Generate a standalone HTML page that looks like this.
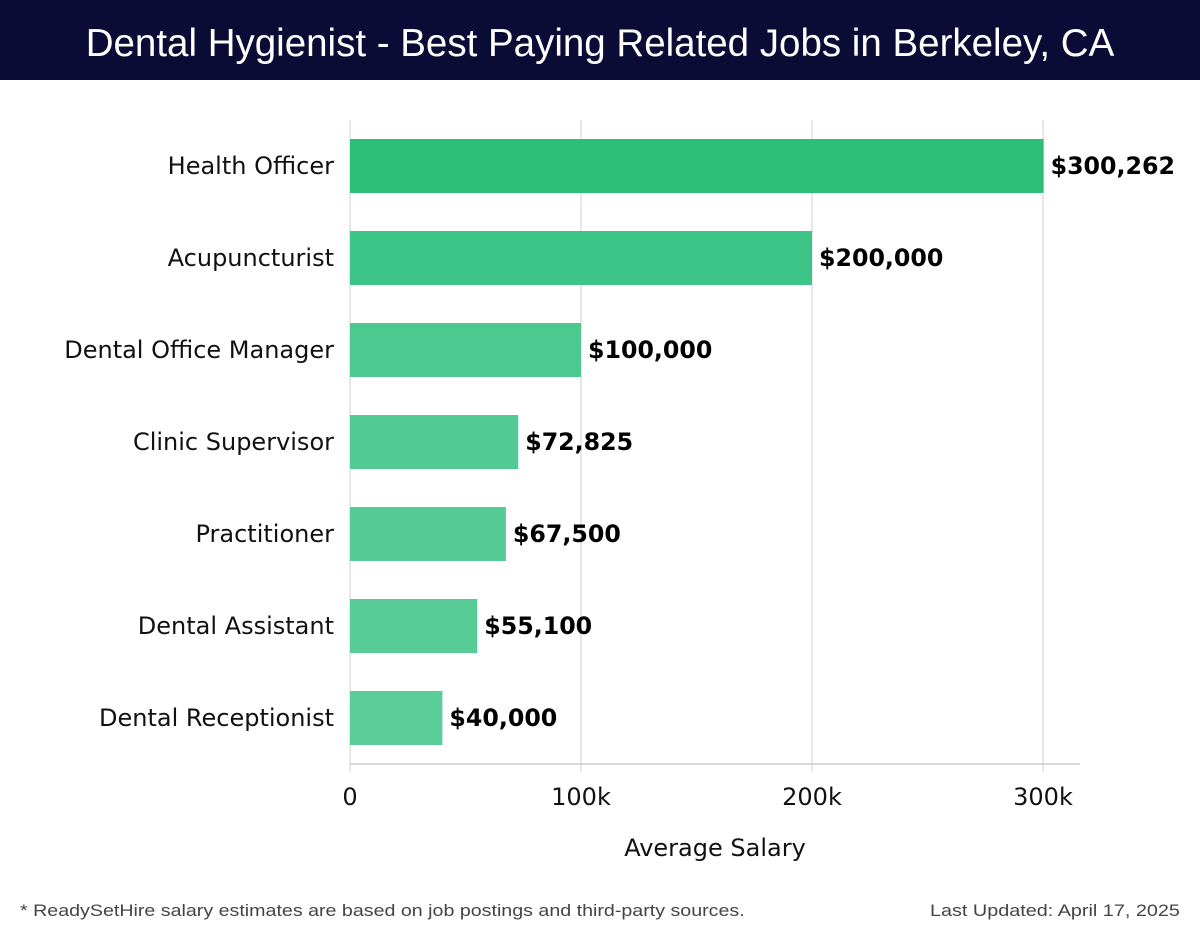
<!DOCTYPE html>
<html><head><meta charset="utf-8"><style>
body{margin:0;width:1200px;height:940px;background:#fff;font-family:"DejaVu Sans",sans-serif;overflow:hidden}
#hdr{position:absolute;left:0;top:0;width:1200px;height:80px;background:#0b0c36;color:#fff;font-family:"Liberation Sans",sans-serif;font-size:38.5px;text-align:center;line-height:88px}
.foot{position:absolute;top:902px;font-size:16.5px;color:#444;font-family:"Liberation Sans",sans-serif;transform-origin:left top}
</style></head><body>
<div id="hdr">Dental Hygienist - Best Paying Related Jobs in Berkeley, CA</div>
<svg id="c" width="1200" height="940" style="position:absolute;left:0;top:0"></svg>
<div class="foot" style="left:20px;transform:scaleX(1.19)">* ReadySetHire salary estimates are based on job postings and third-party sources.</div>
<div class="foot" style="left:930px;transform:scaleX(1.2)">Last Updated: April 17, 2025</div>
<script>
const categories=["Health Officer","Acupuncturist","Dental Office Manager","Clinic Supervisor","Practitioner","Dental Assistant","Dental Receptionist"];
const values=[300262,200000,100000,72825,67500,55100,40000];
const ticks=[0,100000,200000,300000];
const tickLabels=["0","100k","200k","300k"];
const colors=["#2cbf78","#3dc587","#4cc98f","#52ca93","#55cb95","#57cc97","#5acd99"];
const ns="http://www.w3.org/2000/svg",svg=document.getElementById('c');
const x=v=>350+v*(1043-350)/300000;
const y=i=>139+i*92;
function el(t,a,txt){const e=document.createElementNS(ns,t);for(const k in a)e.setAttribute(k,a[k]);if(txt!=null)e.textContent=txt;svg.appendChild(e);return e;}
ticks.forEach((t,i)=>{
 const g=el('line',{x1:x(t),x2:x(t),y1:120,y2:772,stroke:'#e0e0e0','stroke-width':1.5});
 
 const l=el('text',{x:x(t),y:805,'font-size':24,'text-anchor':'middle',fill:'#111'},tickLabels[i]);
 
});
const ax=el('line',{x1:350,x2:1080,y1:764,y2:764,stroke:'#ccc','stroke-width':1.5});

categories.forEach((c,i)=>{
 const b=el('rect',{x:350,y:y(i),width:x(values[i])-350,height:54,fill:colors[i]});
 
 const l=el('text',{x:334,y:y(i)+35,'font-size':24,'text-anchor':'end',fill:'#111'},c);
 
 const v=el('text',{x:x(values[i])+7,y:y(i)+35,'font-size':23.7,'font-weight':'bold',fill:'#000'},'$'+values[i].toLocaleString('en-US'));
 
});
const t=el('text',{x:715,y:856,'font-size':24,'text-anchor':'middle',fill:'#111'},'Average Salary');

</script>
</body></html>
